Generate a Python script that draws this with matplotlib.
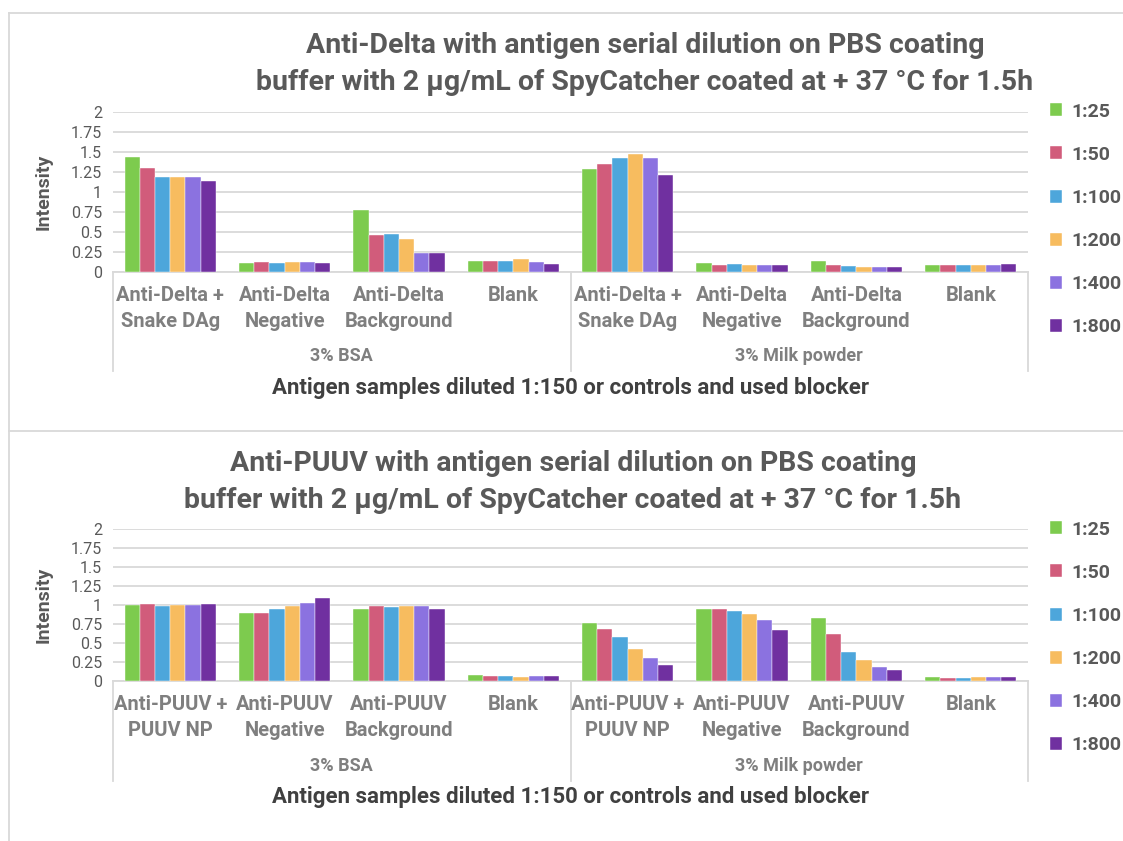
import matplotlib
matplotlib.use("Agg")
import matplotlib.pyplot as plt
import matplotlib.transforms as mtransforms
from matplotlib.lines import Line2D
from matplotlib.ticker import FuncFormatter, MultipleLocator
import numpy as np

plt.rcParams["font.family"] = ["Roboto", "DejaVu Sans"]

# data
dilutions = ["1:25", "1:50", "1:100", "1:200", "1:400", "1:800"]
colors = ["#7DCB4E", "#D15C7B", "#4DA6DB", "#F7BC5F", "#8B72E0", "#7030A0"]
blockers = ["3% BSA", "3% Milk powder"]

delta_cats = ["Anti-Delta +\nSnake DAg", "Anti-Delta\nNegative", "Anti-Delta\nBackground", "Blank"] * 2
puuv_cats = ["Anti-PUUV +\nPUUV NP", "Anti-PUUV\nNegative", "Anti-PUUV\nBackground", "Blank"] * 2

# rows = dilutions, cols = categories (BSA x4, Milk x4)
delta_vals = [
    [1.44, 0.11, 0.77, 0.13, 1.29, 0.11, 0.135, 0.09],
    [1.30, 0.12, 0.455, 0.14, 1.35, 0.09, 0.085, 0.09],
    [1.19, 0.11, 0.47, 0.13, 1.42, 0.10, 0.07, 0.09],
    [1.19, 0.12, 0.41, 0.155, 1.47, 0.09, 0.06, 0.09],
    [1.18, 0.12, 0.23, 0.12, 1.42, 0.09, 0.06, 0.09],
    [1.14, 0.11, 0.24, 0.10, 1.21, 0.08, 0.06, 0.10],
]
puuv_vals = [
    [1.00, 0.89, 0.95, 0.075, 0.77, 0.95, 0.83, 0.053],
    [1.01, 0.89, 0.985, 0.066, 0.686, 0.95, 0.62, 0.04],
    [0.99, 0.95, 0.975, 0.066, 0.58, 0.92, 0.38, 0.04],
    [1.00, 0.99, 0.985, 0.053, 0.42, 0.88, 0.28, 0.053],
    [1.00, 1.03, 0.985, 0.066, 0.30, 0.80, 0.19, 0.053],
    [1.02, 1.09, 0.945, 0.066, 0.21, 0.67, 0.15, 0.053],
]

title_delta = ("Anti-Delta with antigen serial dilution on PBS coating\n"
               "buffer with 2 µg/mL of SpyCatcher coated at + 37 °C for 1.5h")
title_puuv = ("Anti-PUUV with antigen serial dilution on PBS coating\n"
              "buffer with 2 µg/mL of SpyCatcher coated at + 37 °C for 1.5h")
xlabel = "Antigen samples diluted 1:150 or controls and used blocker"

W, H = 1123, 841
GRID = "#D9D9D9"
DARK = "#595959"
MID = "#7F7F7F"


def fx(x):
    return x / W


def fy(y):
    return 1 - y / H


fig = plt.figure(figsize=(W / 100, H / 100), dpi=100)


def panel(y0, y2, y_title, title_cx, y_cat, y_grp, y_xl, y_sep_end, y_leg,
          cats, vals, title):
    ax = fig.add_axes([fx(113), fy(y0), fx(915), (y0 - y2) / H])
    x = np.arange(len(cats))
    w = 0.133
    for k, lab in enumerate(dilutions):
        ax.bar(x + (k - 2.5) * w, vals[k], w, color=colors[k], label=lab,
               edgecolor="white", linewidth=0.3, zorder=3)
    ax.set_xlim(-0.5, len(cats) - 0.5)
    ax.set_ylim(0, 2)
    ax.yaxis.set_major_locator(MultipleLocator(0.25))
    ax.yaxis.set_major_formatter(FuncFormatter(lambda v, p: f"{v:g}"))
    ax.grid(axis="y", color=GRID, linewidth=1.3, zorder=0)
    for s in ["top", "right", "left"]:
        ax.spines[s].set_visible(False)
    ax.spines["bottom"].set_color(GRID)
    ax.spines["bottom"].set_linewidth(1.3)
    ax.set_xticks([])
    ax.tick_params(axis="y", length=0, pad=8, labelsize=11.5, labelcolor=DARK)
    ax.set_ylabel("Intensity", fontsize=14, fontweight="bold", color=DARK, labelpad=13)

    tr = mtransforms.blended_transform_factory(ax.transData, fig.transFigure)
    for i, c in enumerate(cats):
        ax.text(i, fy(y_cat), c, transform=tr, ha="center", va="top",
                fontsize=14.5, fontweight="bold", color=MID, linespacing=1.45)
    for g, b in enumerate(blockers):
        ax.text(g * 4 + 1.5, fy(y_grp), b, transform=tr, ha="center", va="center",
                fontsize=13, fontweight="bold", color=MID)
    for xs in [-0.5, 3.5, 7.5]:
        ax.plot([xs, xs], [fy(y0), fy(y_sep_end)], transform=tr, color=GRID,
                linewidth=1.3, clip_on=False)

    fig.text(fx(570), fy(y_xl), xlabel, ha="center", va="center",
             fontsize=16, fontweight="bold", color="#404040")
    fig.text(fx(title_cx), fy(y_title), title, ha="center", va="center",
             fontsize=20.5, fontweight="bold", color=DARK, linespacing=1.45)

    ax.legend(loc="upper left", bbox_to_anchor=(fx(1040), fy(y_leg)),
              bbox_transform=fig.transFigure, frameon=False,
              prop={"size": 14, "weight": "bold"}, labelcolor=DARK,
              handlelength=0.65, handleheight=0.65, handletextpad=0.45,
              labelspacing=1.29, borderpad=0)
    return ax


panel(271.7, 112, 64, 645, 286, 356, 388, 371, 93, delta_cats, delta_vals, title_delta)
panel(681, 529.3, 482, 573, 695, 766, 797, 781, 511, puuv_cats, puuv_vals, title_puuv)

# chart frames
for (xa, ya, xb, yb) in [(9, 13, W, 13), (9, 13, 9, H), (9, 431, W, 431)]:
    fig.add_artist(Line2D([fx(xa), fx(xb)], [fy(ya), fy(yb)], color=GRID, linewidth=1.3))

fig.savefig("out.png", dpi=100, facecolor="white")
